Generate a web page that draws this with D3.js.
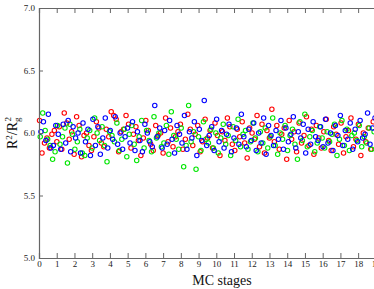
<!DOCTYPE html>
<html><head><meta charset="utf-8">
<script src="https://cdn.jsdelivr.net/npm/d3@7"></script>
<style>body{margin:0;background:#fff}svg{display:block}
svg text{font-family:"Liberation Serif","DejaVu Serif","Times New Roman",serif}</style>
</head><body>
<svg id="c" width="374" height="289"></svg>
<script>
const xTicks = [0,1,2,3,4,5,6,7,8,9,10,11,12,13,14,15,16,17,18,19];
const yTicks = [5.0,5.5,6.0,6.5,7.0];
const seriesNames = ["red","green","blue"];
const seriesColors = ["#ff0000","#00e600","#0000ff"];
const seriesStart = [0.03,0.07,0.11];
const seriesEnd = [18.85,18.9,18.95];
const redValues = [6.10,5.84,5.92,5.96,5.88,5.99,6.02,5.93,6.05,5.87,6.16,6.08,5.95,6.01,5.83,6.13,6.06,5.81,5.98,6.00,5.90,5.86,5.97,6.09,6.04,5.92,5.89,6.03,5.97,6.17,6.14,6.11,5.85,6.01,6.03,6.14,6.07,5.88,5.99,6.05,5.94,5.82,5.96,6.10,6.02,5.91,5.86,6.06,5.98,6.00,5.84,6.12,5.93,6.04,5.89,5.97,6.01,6.07,5.87,5.95,6.15,6.03,5.90,5.99,6.06,5.85,5.93,6.11,5.96,6.02,5.88,6.08,5.98,5.82,6.01,5.94,6.12,6.05,5.91,5.86,6.03,5.97,6.09,5.92,5.80,6.04,6.00,5.95,6.14,5.89,6.07,5.84,6.02,5.96,6.19,5.93,6.06,5.87,5.99,6.04,5.79,6.10,5.95,6.01,5.85,6.08,5.92,5.98,6.13,5.90,6.03,5.83,6.06,5.96,5.88,6.01,6.11,5.94,5.86,6.05,5.99,5.91,6.08,5.84,5.97,6.02,6.12,5.89,5.95,6.07,5.82,6.00,5.93,6.04,5.87,6.09];
const greenValues = [5.97,6.16,6.02,5.95,5.90,5.79,5.85,6.06,5.91,5.97,6.04,5.76,6.07,5.99,5.87,5.93,6.03,5.84,5.82,5.96,6.02,5.88,6.12,6.00,5.94,6.05,5.90,5.77,6.01,5.98,5.93,6.08,5.86,5.95,6.03,5.81,5.99,6.06,5.91,5.78,5.97,6.10,5.88,6.02,5.94,5.85,6.13,5.96,6.00,5.89,5.92,6.06,5.83,6.17,5.98,5.95,5.87,6.04,5.73,5.90,6.22,5.93,6.01,5.71,5.97,5.86,6.09,5.95,5.92,6.03,5.88,6.00,5.84,5.96,6.07,5.91,5.98,5.82,6.05,5.94,6.11,5.89,5.99,6.02,5.87,5.93,6.08,5.96,5.85,6.01,5.92,6.04,5.88,5.97,6.12,5.90,5.83,6.00,5.95,6.06,5.86,5.98,6.03,5.91,5.79,6.09,5.94,6.15,5.89,5.97,6.02,5.85,5.92,6.05,5.96,5.88,6.01,5.93,5.99,6.07,5.82,5.95,6.10,5.90,6.03,5.86,5.98,6.00,5.94,6.06,5.89,5.97,5.92,6.04,5.87,6.01];
const blueValues = [6.01,6.09,5.94,6.15,5.88,5.90,6.06,5.99,5.87,6.07,5.92,6.10,5.85,6.05,5.96,6.00,5.84,6.08,5.93,6.03,5.82,6.11,5.90,6.05,5.83,5.96,6.12,5.88,6.02,5.95,6.13,5.91,6.00,5.87,5.97,6.04,5.92,6.09,5.86,6.01,5.94,5.85,6.07,6.00,5.93,5.89,6.22,5.97,6.04,5.88,6.02,5.91,6.10,5.95,5.84,6.06,5.99,5.92,6.14,5.87,6.01,5.96,6.09,5.82,6.03,5.94,6.26,5.90,5.98,6.05,5.86,6.11,5.93,6.02,5.88,5.99,6.07,5.85,5.96,6.04,5.91,6.15,5.97,5.89,6.03,5.94,6.08,5.86,6.00,5.92,6.12,5.83,6.06,5.98,5.90,6.02,5.95,6.10,5.87,6.04,5.93,5.99,6.13,5.88,6.01,5.96,6.07,5.84,6.03,5.91,6.09,5.97,5.94,6.05,5.89,6.11,5.92,6.00,5.86,6.06,5.98,6.14,5.90,6.02,5.95,6.08,5.87,6.03,5.93,6.10,5.96,5.99,6.16,5.91,6.04,6.12];
const seriesValues = [redValues, greenValues, blueValues];

const svg = d3.select("#c");
const L = 39, T = 8, B = 258;
const x = d3.scaleLinear().domain([0,19]).range([L, L + 19*17.73]);
const y = d3.scaleLinear().domain([5,7]).range([B, T]);
const axisCol = "#666";

seriesValues.forEach((vals, s) => {
  const xs = d3.scaleLinear().domain([0, vals.length-1]).range([seriesStart[s], seriesEnd[s]]);
  svg.append("g").selectAll("circle").data(vals).join("circle")
    .attr("cx", (d,i) => x(xs(i)))
    .attr("cy", d => y(d))
    .attr("r", 2.2)
    .attr("fill", "none")
    .attr("stroke", seriesColors[s])
    .attr("stroke-width", 1.1);
});

const gb = svg.append("g").attr("transform", `translate(0,${B})`)
  .call(d3.axisBottom(x).tickValues(xTicks).tickSize(-5).tickPadding(9).tickFormat(d3.format("d")));
const gt = svg.append("g").attr("transform", `translate(0,${T})`)
  .call(d3.axisTop(x).tickValues(xTicks).tickSize(-5).tickFormat(""));
const gl = svg.append("g").attr("transform", `translate(${L},0)`)
  .call(d3.axisLeft(y).tickValues(yTicks).tickSize(-4).tickPadding(4).tickFormat(d3.format(".1f")));
[gb, gt, gl].forEach(g => {
  g.attr("font-family", null);
  g.selectAll(".domain").attr("stroke", axisCol).attr("stroke-width", 1.2);
  g.selectAll(".tick line").attr("stroke", axisCol).attr("stroke-width", 1);
  g.selectAll("text").attr("font-size", 9).attr("fill", "#222");
});
gb.selectAll("text").attr("dy", "0");
gl.selectAll("text").attr("dy", "0.32em");

svg.append("text").attr("x", 222).attr("y", 285).attr("text-anchor", "middle")
  .attr("font-size", 14).attr("fill", "#111").text("MC stages");

const yt = svg.append("text").attr("transform", "translate(17,133) rotate(-90)")
  .attr("text-anchor", "middle").attr("font-size", 14).attr("fill", "#111");
yt.append("tspan").text("R");
yt.append("tspan").attr("font-size", 9).attr("dy", -5).text("2");
yt.append("tspan").attr("dy", 5).text("/R");
yt.append("tspan").attr("font-size", 9).attr("dy", 3).text("g");
yt.append("tspan").attr("font-size", 9).attr("dx", -4).attr("dy", -9).text("2");
</script>
</body></html>
